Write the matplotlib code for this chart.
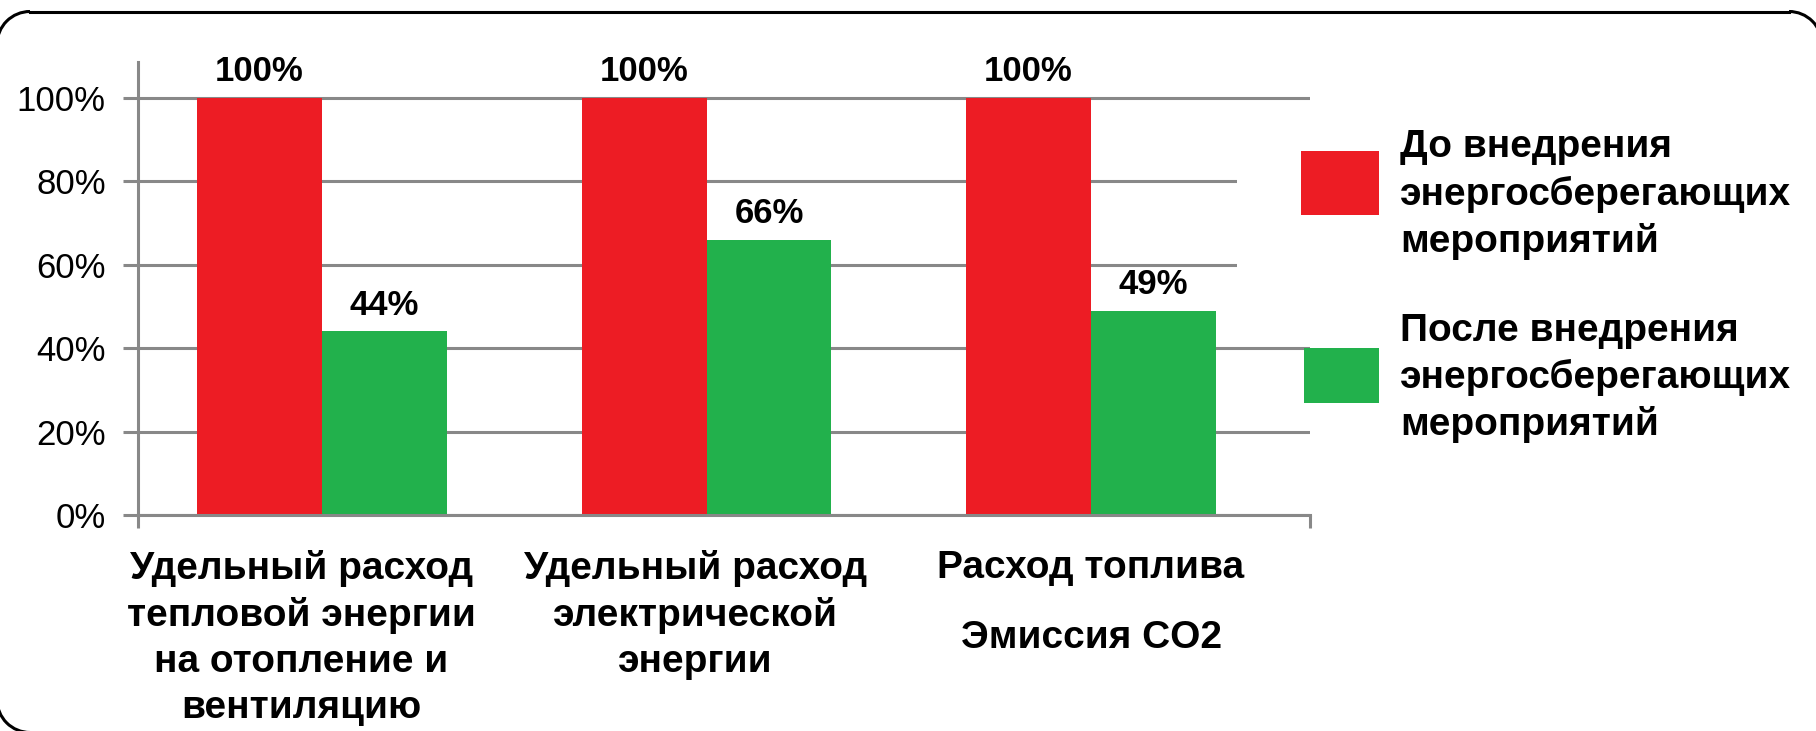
import matplotlib
matplotlib.use("Agg")
import matplotlib.pyplot as plt
import numpy as np
from matplotlib.patches import Rectangle, Arc
from matplotlib.lines import Line2D
from matplotlib.legend_handler import HandlerPatch
from matplotlib.transforms import ScaledTranslation

plt.rcParams['font.family'] = ['Liberation Sans', 'DejaVu Sans']

# data
categories = ["Удельный расход\nтепловой энергии\nна отопление и\nвентиляцию",
              "Удельный расход\nэлектрической\nэнергии",
              "Расход топлива\nЭмиссия CO2"]
before = [100, 100, 100]
after = [44, 66, 49]
series_names = ["До внедрения\nэнергосберегающих\nмероприятий",
                "После внедрения\nэнергосберегающих\nмероприятий"]
yticks = [0, 20, 40, 60, 80, 100]

red = "#ED1C24"
green = "#22B14C"
grid_gray = "#888888"

W, H = 1816, 731
fig = plt.figure(figsize=(W / 100, H / 100), dpi=100)
ax = fig.add_axes([0.076, 0.2951, 0.6454, 0.6201])

x = np.arange(len(categories))
w = 0.325
b1 = ax.bar(x - w / 2, before, w, color=red, zorder=2)
b2 = ax.bar(x + w / 2, after, w, color=green, zorder=2)
ax.bar_label(b1, labels=[f"{v}%" for v in before], padding=7, fontsize=25, fontweight='bold')
ax.bar_label(b2, labels=[f"{v}%" for v in after], padding=7, fontsize=25, fontweight='bold')

ax.set_xlim(-0.4785, 2.5696)
ax.set_ylim(0, 108.5)
ax.set_yticks(yticks)
ax.set_yticklabels([f"{v}%" for v in yticks])
ax.yaxis.grid(True, color=grid_gray, lw=2.2)
ax.set_axisbelow(True)
ax.tick_params(axis='y', length=10.8, width=2.2, color=grid_gray, pad=12.5, labelsize=25)

ax.set_xticks(x)
ax.set_xticklabels(categories, fontsize=28, fontweight='bold', linespacing=1.35)
ax.tick_params(axis='x', which='major', length=0, pad=25)
ax.set_xticks(list(ax.get_xlim()), minor=True)
ax.tick_params(axis='x', which='minor', length=9.4, width=2.2, color=grid_gray)
xlabels = ax.get_xticklabels()
xlabels[2].set_linespacing(2.22)
# the first two category captions sit a bit left of their bar pairs
for lab, dx in zip(xlabels, [-15, -8, 0]):
    lab.set_transform(lab.get_transform() + ScaledTranslation(dx / 72, 0, fig.dpi_scale_trans))

for s in ['top', 'right']:
    ax.spines[s].set_visible(False)
for s in ['left', 'bottom']:
    ax.spines[s].set_color(grid_gray)
    ax.spines[s].set_linewidth(2.2)

# white patch behind the legend, hides grid ends there
ax.add_patch(Rectangle((0.938, 0.475), 0.07, 0.44, transform=ax.transAxes,
                       facecolor='white', edgecolor='none', zorder=1, clip_on=False))


def swatch(legend, orig_handle, xdescent, ydescent, width, height, fontsize):
    # colour boxes: size and vertical centre in points, per entry
    if orig_handle is b1.patches[0]:
        bh, cy, bw = 45.4, 18.4, width
    else:
        bh, cy, bw = 39.6, 12.2, width - 2.2
    return Rectangle((-xdescent + width - bw, cy - bh / 2), bw, bh)


leg = fig.legend(handles=[b1.patches[0], b2.patches[0]], labels=series_names,
                 loc='upper left', bbox_to_anchor=(0.7164, 0.823), frameon=False,
                 prop={'size': 28, 'weight': 'bold'},
                 handlelength=2.0, handleheight=2.0, handletextpad=0.54,
                 labelspacing=1.37, borderpad=0, borderaxespad=0,
                 handler_map={Rectangle: HandlerPatch(patch_func=swatch)})
for t in leg.get_texts():
    t.set_linespacing(1.35)

# rounded frame: only its top edge and three corners fall inside the picture
r = 33
top = H - 11.5
left, right, bottom = -3, 1822, -1.5
frame_kw = dict(transform=fig.transFigure, color='black', lw=2.2)
fig.add_artist(Line2D([(left + r) / W, (right - r) / W], [top / H, top / H], **frame_kw))
fig.add_artist(Arc(((left + r) / W, (top - r) / H), 2 * r / W, 2 * r / H,
                   theta1=90, theta2=180, **frame_kw))
fig.add_artist(Arc(((right - r) / W, (top - r) / H), 2 * r / W, 2 * r / H,
                   theta1=0, theta2=90, **frame_kw))
fig.add_artist(Arc(((left + r) / W, (bottom + r) / H), 2 * r / W, 2 * r / H,
                   theta1=180, theta2=270, **frame_kw))

fig.savefig("out.png", dpi=100)
